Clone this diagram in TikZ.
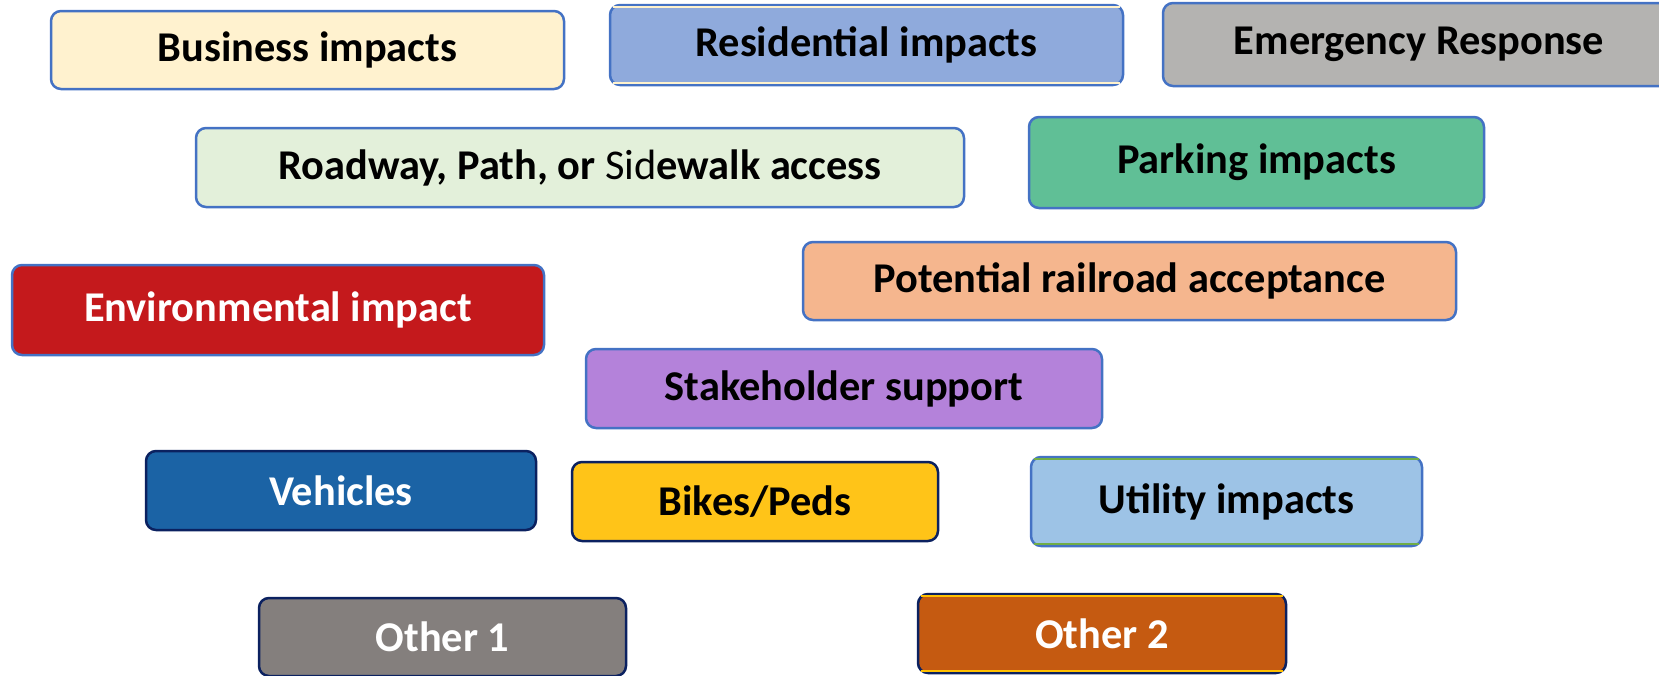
\documentclass[tikz,border=0pt]{standalone}
\usepackage{fontspec}
\setmainfont{Carlito}
\usepackage{xcolor}
\usepackage{tikz}

\definecolor{edgeblue}{HTML}{4472C4}
\definecolor{edgenavy}{HTML}{0B2160}
\definecolor{bizfill}{HTML}{FFF2CF}
\definecolor{resfill}{HTML}{8FAADC}
\definecolor{emgfill}{HTML}{B4B3B1}
\definecolor{roadfill}{HTML}{E3F0DA}
\definecolor{parkfill}{HTML}{60BF96}
\definecolor{envfill}{HTML}{C4191C}
\definecolor{railfill}{HTML}{F5B68E}
\definecolor{stakefill}{HTML}{B482DA}
\definecolor{vehfill}{HTML}{1B63A5}
\definecolor{bikefill}{HTML}{FFC418}
\definecolor{utilfill}{HTML}{9DC3E6}
\definecolor{othonefill}{HTML}{847F7D}
\definecolor{othtwofill}{HTML}{C55A11}
\definecolor{rescream}{HTML}{FFF2CC}
\definecolor{utilgreen}{HTML}{70AD47}
\definecolor{othyellow}{HTML}{FFC000}

\begin{document}
\begin{tikzpicture}[x=0.5pt, y=-0.5pt,
        box/.style={draw=edgeblue, line width=1.25pt, rounded corners=5pt,
            inner sep=0pt, font=\fontsize{21.2}{24}\selectfont\bfseries},
        navybox/.style={box, draw=edgenavy},
        innerline/.style={line width=0.8pt}]
        \useasboundingbox (0, 0) rectangle (1659, 675);

        % Top row
        \node[box, fill=bizfill, minimum width=256.5pt, minimum height=39pt] (biz) at (307.5, 50) {Business impacts};
        \node[box, fill=resfill, minimum width=256.5pt, minimum height=40pt] (res) at (866.5, 45) {Residential impacts};
        \node[box, fill=emgfill, minimum width=256pt, minimum height=41.5pt] (emg) at (1419, 44.5) {Emergency Response};

        % Access and parking
        \node[box, fill=roadfill, minimum width=384pt, minimum height=39.5pt] (road) at (580, 167.5)
            {Roadway, Path, or \mdseries Sid\bfseries ewalk access};
        \node[box, fill=parkfill, minimum width=227.5pt, minimum height=45.5pt] (park) at (1256.5, 162.5) {Parking impacts};

        \node[box, fill=envfill, text=white, minimum width=266pt, minimum height=45pt] (env) at (278, 310) {Environmental impact};
        \node[box, fill=railfill, minimum width=326.5pt, minimum height=39pt] (rail) at (1129.5, 281) {Potential railroad acceptance};
        \node[box, fill=stakefill, minimum width=258pt, minimum height=39.5pt] (stake) at (844, 388.5) {Stakeholder support};

        % Lower rows
        \node[navybox, fill=vehfill, text=white, minimum width=195pt, minimum height=39.5pt] (veh) at (341, 490.5) {Vehicles};
        \node[navybox, fill=bikefill, minimum width=183pt, minimum height=39.5pt] (bike) at (755, 501.5) {Bikes/Peds};
        \node[box, fill=utilfill, minimum width=195.5pt, minimum height=44.5pt] (util) at (1226.5, 501.5) {Utility impacts};

        \node[navybox, fill=othonefill, text=white, minimum width=183.5pt, minimum height=39pt] (othone) at (442.5, 637) {Other 1};
        \node[navybox, fill=othtwofill, text=white, minimum width=184pt, minimum height=39.5pt] (othtwo) at (1102, 633.5) {Other 2};

        % Thin inner lines along top and bottom
        \foreach \n/\c in {res/rescream, util/utilgreen, othtwo/othyellow} {
            \draw[innerline, \c] ([shift={(2pt, -1.7pt)}]\n.north west) -- ([shift={(-2pt, -1.7pt)}]\n.north east);
            \draw[innerline, \c] ([shift={(2pt, 1.7pt)}]\n.south west) -- ([shift={(-2pt, 1.7pt)}]\n.south east);
        }
    \end{tikzpicture}
\end{document}
